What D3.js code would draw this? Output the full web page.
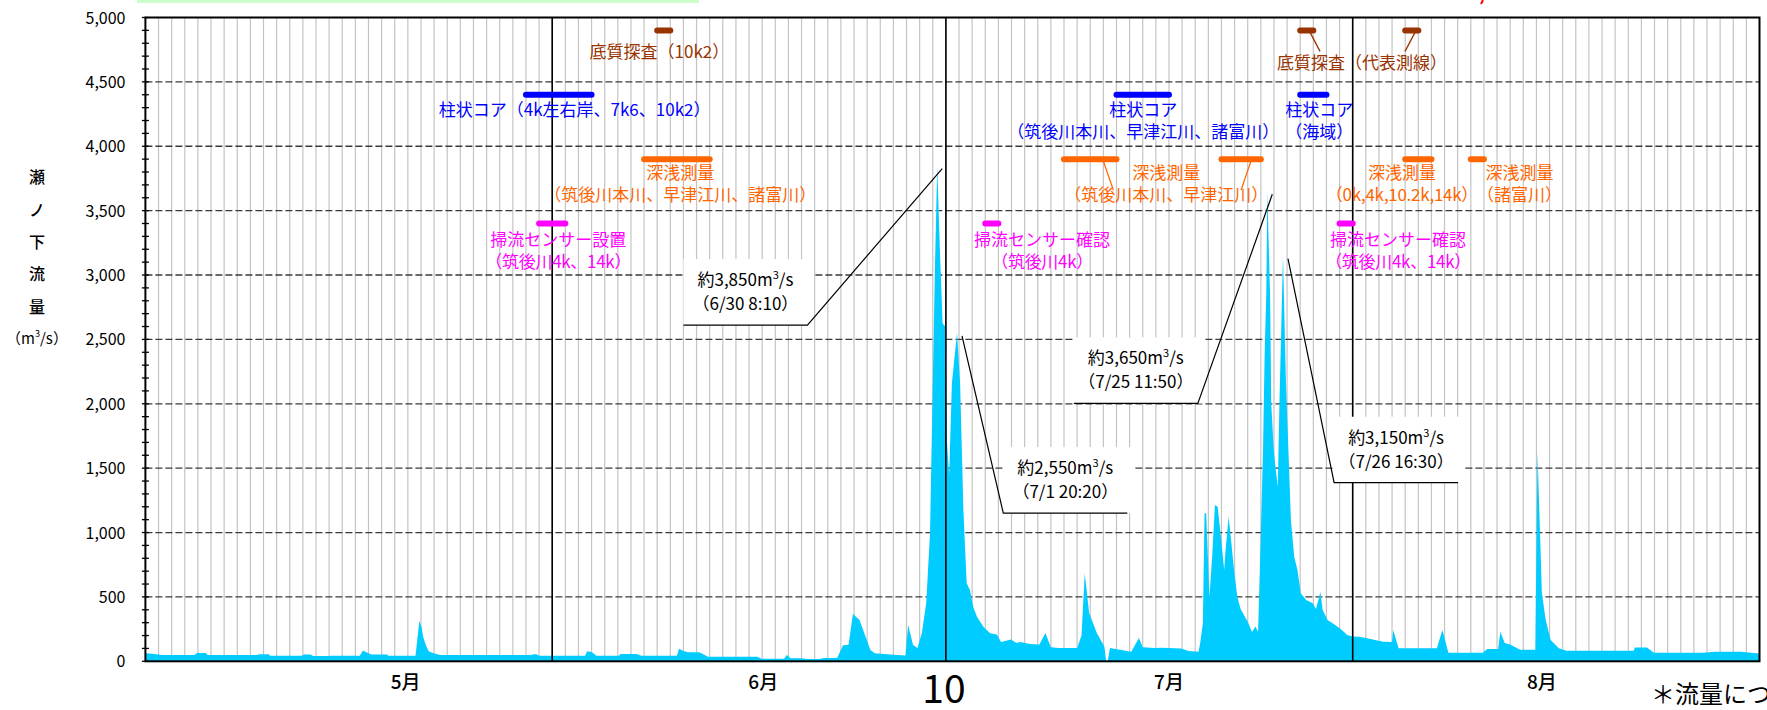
<!DOCTYPE html>
<html>
<head>
<meta charset="utf-8">
<script src="https://cdn.jsdelivr.net/npm/d3@7"></script>
<style>
	html, body { margin: 0; padding: 0; background: #fff; overflow: hidden; }
	svg { display: block; }
	text { font-family: "Noto Sans CJK JP", "Liberation Sans", sans-serif; }
</style>
</head>
<body>
<svg id="chart" width="1767" height="710"></svg>
<script>
// discharge at Senoshita, [time, m3/s]
var flowData = [
	["5/1 00:00", 62], ["5/1 12:00", 58], ["5/2 00:00", 52], ["5/2 06:00", 49], ["5/4 18:00", 49],
	["5/4 22:00", 64], ["5/5 14:00", 64], ["5/5 18:00", 49], ["5/9 12:00", 49], ["5/9 17:00", 54],
	["5/10 10:00", 54], ["5/10 12:00", 44], ["5/12 22:00", 44], ["5/13 02:00", 52], ["5/13 14:00", 52],
	["5/13 19:00", 41], ["5/14 23:00", 41], ["5/15 03:00", 44], ["5/17 08:00", 44], ["5/17 14:00", 83],
	["5/17 20:00", 70], ["5/18 05:00", 52], ["5/19 10:00", 52], ["5/19 12:00", 44], ["5/21 14:00", 44],
	["5/21 21:00", 313], ["5/22 01:00", 267], ["5/22 04:00", 190], ["5/22 09:00", 125], ["5/22 14:00", 78],
	["5/22 23:00", 62], ["5/23 11:00", 49], ["5/30 10:00", 49], ["5/30 14:00", 54], ["5/30 19:00", 54],
	["5/31 00:00", 44], ["6/3 12:00", 44], ["6/3 16:00", 78], ["6/4 00:00", 73], ["6/4 09:00", 44],
	["6/6 02:00", 44], ["6/6 05:00", 57], ["6/7 10:00", 57], ["6/7 19:00", 44], ["6/10 12:00", 44],
	["6/10 16:00", 98], ["6/11 00:00", 80], ["6/11 08:00", 70], ["6/12 05:00", 70], ["6/12 21:00", 36],
	["6/16 15:00", 36], ["6/16 23:00", 20], ["6/18 16:00", 20], ["6/18 21:00", 49], ["6/19 04:00", 23],
	["6/20 00:00", 23], ["6/20 09:00", 18], ["6/21 09:00", 18], ["6/21 17:00", 26], ["6/22 17:00", 26],
	["6/23 04:00", 125], ["6/23 14:00", 128], ["6/23 22:00", 367], ["6/24 04:00", 345], ["6/24 10:00", 320],
	["6/24 20:00", 204], ["6/25 06:00", 88], ["6/25 14:00", 62], ["6/26 12:00", 55], ["6/27 22:00", 45],
	["6/28 03:00", 282], ["6/28 12:00", 126], ["6/28 20:00", 103], ["6/29 04:00", 220], ["6/29 12:00", 450],
	["6/29 19:00", 996], ["6/30 00:00", 2160], ["6/30 04:00", 3064], ["6/30 08:10", 3850], ["6/30 13:00", 3193],
	["6/30 18:00", 2624], ["6/30 23:00", 2600], ["7/1 02:00", 1700], ["7/1 06:00", 1450], ["7/1 11:00", 2160],
	["7/1 20:20", 2550], ["7/2 02:00", 2160], ["7/2 08:00", 1175], ["7/2 14:00", 607], ["7/2 20:00", 554],
	["7/3 02:00", 422], ["7/3 09:00", 345], ["7/3 21:00", 267], ["7/4 09:00", 218], ["7/4 21:00", 208],
	["7/5 05:00", 150], ["7/5 23:00", 170], ["7/6 09:00", 142], ["7/6 16:00", 150], ["7/7 10:00", 135],
	["7/8 03:00", 130], ["7/8 14:00", 220], ["7/9 00:00", 110], ["7/9 14:00", 103], ["7/11 00:00", 103],
	["7/11 08:00", 200], ["7/11 14:00", 683], ["7/11 22:00", 375], ["7/12 12:00", 220], ["7/13 02:00", 113],
	["7/13 05:00", 0], ["7/13 08:00", 0], ["7/13 12:00", 103], ["7/15 03:00", 75], ["7/15 17:00", 180],
	["7/16 00:00", 110], ["7/16 21:00", 103], ["7/17 12:00", 105], ["7/18 22:00", 100], ["7/19 12:00", 80],
	["7/20 06:00", 75], ["7/20 09:00", 140], ["7/20 14:00", 295], ["7/20 17:00", 1149], ["7/20 20:00", 1150],
	["7/21 02:00", 501], ["7/21 07:00", 812], ["7/21 12:00", 1213], ["7/21 17:00", 1200], ["7/21 23:00", 967],
	["7/22 05:00", 709], ["7/22 07:00", 840], ["7/22 13:00", 1123], ["7/22 17:00", 967], ["7/22 23:00", 709],
	["7/23 05:00", 501], ["7/23 11:00", 406], ["7/24 00:00", 308], ["7/24 08:00", 227], ["7/24 14:00", 270],
	["7/24 19:00", 230], ["7/24 23:00", 840], ["7/25 04:00", 1640], ["7/25 07:00", 2393], ["7/25 10:00", 2857],
	["7/25 11:50", 3650], ["7/25 17:00", 2830], ["7/25 19:00", 2003], ["7/26 00:00", 1615], ["7/26 07:00", 1356],
	["7/26 10:00", 2003], ["7/26 16:30", 3150], ["7/26 22:00", 2160], ["7/27 02:00", 1693], ["7/27 07:00", 1097],
	["7/27 13:00", 812], ["7/27 19:00", 709], ["7/28 01:00", 528], ["7/28 11:00", 476], ["7/28 23:00", 450],
	["7/29 05:00", 406], ["7/29 13:00", 540], ["7/29 17:00", 400], ["7/30 02:00", 320], ["7/30 14:00", 287],
	["7/31 02:00", 250], ["7/31 14:00", 204], ["8/1 00:00", 192], ["8/1 12:00", 190], ["8/2 00:00", 180],
	["8/3 08:00", 152], ["8/4 00:00", 150], ["8/4 02:00", 243], ["8/4 12:00", 101], ["8/7 10:00", 101],
	["8/7 20:00", 243], ["8/8 07:00", 67], ["8/10 22:00", 67], ["8/11 06:00", 95], ["8/12 02:00", 95],
	["8/12 06:00", 230], ["8/12 14:00", 142], ["8/13 00:00", 130], ["8/13 18:00", 90], ["8/14 22:00", 90],
	["8/15 02:00", 1630], ["8/15 10:00", 528], ["8/15 17:00", 320], ["8/16 02:00", 165], ["8/16 17:00", 101],
	["8/17 07:00", 82], ["8/22 10:00", 82], ["8/22 12:00", 107], ["8/23 10:00", 107], ["8/23 23:00", 67],
	["8/27 17:00", 67], ["8/28 14:00", 75], ["8/30 14:00", 75], ["8/31 18:00", 62], ["9/1 00:00", 62]
];

var yTicks = [0, 500, 1000, 1500, 2000, 2500, 3000, 3500, 4000, 4500, 5000];
var monthBounds = ["6/1", "7/1", "8/1"];
var monthLabels = ["5月", "6月", "7月", "8月"];
var monthLabelDates = ["5/20 20:00", "6/17 02:00", "7/18 00:00", "8/15 10:00"];
var yTitleChars = ["瀬", "ノ", "下", "流", "量"];

// survey periods; level = flow value the bar is drawn at
var taskLevels = {sediment: 4900, core: 4400, depth: 3900, sensor: 3400};
var tasks = [
	{kind: "sediment", spans: [["6/9", "6/10"]], text: ["底質探査（10k2）"], labelAt: ["6/9 04:00", 4733]},
	{kind: "core", spans: [["5/30", "6/4"]], text: ["柱状コア（4k左右岸、7k6、10k2）"], labelAt: ["6/2 17:00", 4280]},
	{kind: "depth", spans: [["6/8", "6/13"]], text: ["深浅測量", "（筑後川本川、早津江川、諸富川）"], labelAt: ["6/10 18:00", 3789]},
	{kind: "sensor", spans: [["5/31", "6/2"]], text: ["掃流センサー設置", "（筑後川4k、14k）"], labelAt: ["6/1 11:00", 3271]},
	{kind: "sensor", spans: [["7/4", "7/5"]], text: ["掃流センサー確認", "（筑後川4k）"], labelAt: ["7/8 08:00", 3271]},
	{kind: "core", spans: [["7/14", "7/18"]], text: ["柱状コア", "（筑後川本川、早津江川、諸富川）"], labelAt: ["7/16 01:00", 4280]},
	{kind: "depth", spans: [["7/10", "7/14"], ["7/22", "7/25"]], text: ["深浅測量", "（筑後川本川、早津江川）"], labelAt: ["7/17 19:00", 3789]},
	{kind: "sediment", spans: [["7/28", "7/29"], ["8/5", "8/6"]], text: ["底質探査（代表測線）"], labelAt: ["8/1 17:00", 4643]},
	{kind: "core", spans: [["7/28", "7/30"]], text: ["柱状コア", "（海域）"], labelAt: ["7/29 11:00", 4280]},
	{kind: "sensor", spans: [["7/31", "8/1"]], text: ["掃流センサー確認", "（筑後川4k、14k）"], labelAt: ["8/4 11:00", 3271]},
	{kind: "depth", spans: [["8/5", "8/7"]], text: ["深浅測量", "（0k,4k,10.2k,14k）"], labelAt: ["8/4 18:00", 3789]},
	{kind: "depth", spans: [["8/10", "8/11"]], text: ["深浅測量", "（諸富川）"], labelAt: ["8/13 17:00", 3789]}
];

// peak call-outs; boxAt = [left edge time, bottom edge value]
var peakNotes = [
	{time: "6/30 08:10", value: 3850, amount: "約3,850", when: "（6/30 8:10）", boxAt: ["6/11 00:00", 2611]},
	{time: "7/1 20:20", value: 2550, amount: "約2,550", when: "（7/1 20:20）", boxAt: ["7/5 09:00", 1151]},
	{time: "7/25 11:50", value: 3650, amount: "約3,650", when: "（7/25 11:50）", boxAt: ["7/10 18:00", 2003]},
	{time: "7/26 16:30", value: 3150, amount: "約3,150", when: "（7/26 16:30）", boxAt: ["7/30 14:00", 1387]}
];

var kindColors = {sediment: "#993300", core: "#0000ff", depth: "#ff6600", sensor: "#ff00ff"};
var jpFont = "'Noto Sans CJK JP', sans-serif";
var numFont = "'Liberation Sans', Arial, sans-serif";

var parseTime = d3.timeParse("%m/%d %H:%M");
var toDate = function (s) {
	return parseTime(s.indexOf(" ") === -1 ? s + " 00:00" : s);
};

var svg = d3.select("#chart");
var plot = {left: 145.4, right: 1759.5, top: 17.5, bottom: 661.3};

var x = d3.scaleTime()
	.domain([toDate("5/1"), toDate("9/1")])
	.range([plot.left, plot.right]);
var y = d3.scaleLinear()
	.domain([0, 5000])
	.range([plot.bottom, plot.top]);

// bits of the page above the chart that got cropped
svg.append("rect")
	.attr("x", 137).attr("y", 0)
	.attr("width", 562).attr("height", 3)
	.attr("fill", "#ccffcc");
svg.append("line")
	.attr("x1", 1483).attr("y1", 0)
	.attr("x2", 1481).attr("y2", 4)
	.attr("stroke", "#ff0000").attr("stroke-width", 2);

// daily grid
var gGrid = svg.append("g");
gGrid.selectAll("line.day")
	.data(d3.timeDay.range(toDate("5/2"), toDate("9/1")))
	.enter().append("line")
	.attr("class", "day")
	.attr("x1", function (d) { return x(d); })
	.attr("x2", function (d) { return x(d); })
	.attr("y1", plot.top)
	.attr("y2", plot.bottom)
	.attr("stroke", "#c4c4c4")
	.attr("stroke-width", 1.2);

gGrid.selectAll("line.hgrid")
	.data(yTicks.slice(1, -1))
	.enter().append("line")
	.attr("class", "hgrid")
	.attr("x1", plot.left)
	.attr("x2", plot.right)
	.attr("y1", function (d) { return y(d); })
	.attr("y2", function (d) { return y(d); })
	.attr("stroke", "#3a3a3a")
	.attr("stroke-width", 1.3)
	.attr("stroke-dasharray", "7,3");

// hydrograph
var area = d3.area()
	.x(function (d) { return x(toDate(d[0])); })
	.y0(y(0))
	.y1(function (d) { return y(d[1]); });

svg.append("path")
	.datum(flowData)
	.attr("d", area)
	.attr("fill", "#00ccff");

// month boundaries
svg.selectAll("line.month")
	.data(monthBounds)
	.enter().append("line")
	.attr("class", "month")
	.attr("x1", function (d) { return x(toDate(d)); })
	.attr("x2", function (d) { return x(toDate(d)); })
	.attr("y1", plot.top)
	.attr("y2", plot.bottom)
	.attr("stroke", "#000")
	.attr("stroke-width", 1.6);

// plot frame
svg.append("rect")
	.attr("x", plot.left).attr("y", plot.top)
	.attr("width", plot.right - plot.left)
	.attr("height", plot.bottom - plot.top)
	.attr("fill", "none")
	.attr("stroke", "#000")
	.attr("stroke-width", 2);

// y axis ticks every 100 crossing the axis line
svg.selectAll("line.ytick")
	.data(d3.range(0, 5001, 100))
	.enter().append("line")
	.attr("class", "ytick")
	.attr("x1", plot.left - 3.5)
	.attr("x2", plot.left + 3.5)
	.attr("y1", function (d) { return y(d); })
	.attr("y2", function (d) { return y(d); })
	.attr("stroke", "#000")
	.attr("stroke-width", 1.3);

svg.selectAll("text.ylabel")
	.data(yTicks)
	.enter().append("text")
	.attr("class", "ylabel")
	.attr("x", 125.5)
	.attr("y", function (d) { return y(d) + 6; })
	.attr("text-anchor", "end")
	.attr("font-family", numFont)
	.attr("font-size", "16px")
	.attr("fill", "#000")
	.text(d3.format(","));

// y axis title, one character per row
var titleY = [177, 210, 242, 274, 307];
yTitleChars.forEach(function (c, i) {
	svg.append("text")
		.attr("x", 37).attr("y", titleY[i] + 6)
		.attr("text-anchor", "middle")
		.attr("font-family", jpFont)
		.attr("font-size", "16px")
		.attr("font-weight", "500")
		.text(c);
});
var unit = svg.append("text")
	.attr("x", 37).attr("y", 344)
	.attr("text-anchor", "middle")
	.attr("font-family", jpFont)
	.attr("font-size", "15px");
unit.append("tspan").text("（m");
unit.append("tspan").attr("font-size", "9px").attr("dy", -7).text("3");
unit.append("tspan").attr("dy", 7).text("/s）");

// month labels
svg.selectAll("text.month")
	.data(monthLabels)
	.enter().append("text")
	.attr("class", "month")
	.attr("x", function (d, i) { return x(toDate(monthLabelDates[i])); })
	.attr("y", 689)
	.attr("text-anchor", "middle")
	.attr("font-family", jpFont)
	.attr("font-size", "19px")
	.attr("font-weight", "500")
	.text(function (d) { return d; });

// survey bars and their labels
var gTasks = svg.append("g");
tasks.forEach(function (t) {
	var color = kindColors[t.kind];
	var by = y(taskLevels[t.kind]);
	var lx = x(toDate(t.labelAt[0]));
	var ly = y(t.labelAt[1]);

	t.spans.forEach(function (s) {
		var x0 = x(toDate(s[0]));
		var x1 = x(toDate(s[1]));
		gTasks.append("line")
			.attr("x1", x0).attr("x2", x1)
			.attr("y1", by).attr("y2", by)
			.attr("stroke", color)
			.attr("stroke-width", 6)
			.attr("stroke-linecap", "round");

		// split periods get a short leader to the shared label
		if (t.spans.length > 1) {
			var sx = x0 + (x1 - x0) * 0.75;
			var dir = lx > sx ? 1 : -1;
			gTasks.append("line")
				.attr("x1", sx).attr("y1", by + 2)
				.attr("x2", sx + dir * 10)
				.attr("y2", by + (t.kind === "depth" ? 31 : 21))
				.attr("stroke", color)
				.attr("stroke-width", 1.3);
		}
	});

	t.text.forEach(function (line, i) {
		gTasks.append("text")
			.attr("x", lx)
			.attr("y", ly + i * 21.5 + 6)
			.attr("text-anchor", "middle")
			.attr("font-family", jpFont)
			.attr("font-size", "17px")
			.attr("letter-spacing", i > 0 && /\d/.test(line) ? "-0.3px" : null)
			.attr("fill", color)
			.text(line);
	});
});

// peak call-outs
var gNotes = svg.append("g");
peakNotes.forEach(function (n) {
	var bx = x(toDate(n.boxAt[0]));
	var bb = y(n.boxAt[1]);
	var bw = 130, bh = 66, lineW = 124;
	var px = x(toDate(n.time)) + 5;
	var py = y(n.value) + 3;

	gNotes.append("rect")
		.attr("x", bx).attr("y", bb - bh)
		.attr("width", bw).attr("height", bh)
		.attr("fill", "#fff");

	var fromRight = px > bx + bw / 2;
	var ax = fromRight ? bx + lineW : bx;
	gNotes.append("polyline")
		.attr("points", [[bx, bb], [bx + lineW, bb], [ax, bb], [px, py]].join(" "))
		.attr("fill", "none")
		.attr("stroke", "#000")
		.attr("stroke-width", 1.2);

	var cx = bx + lineW / 2;
	var t1 = gNotes.append("text")
		.attr("x", cx).attr("y", bb - 45 + 6)
		.attr("text-anchor", "middle")
		.attr("font-family", jpFont)
		.attr("font-size", "17px");
	t1.append("tspan").text(n.amount + "m");
	t1.append("tspan").attr("font-size", "11px").attr("dy", -7).text("3");
	t1.append("tspan").attr("dy", 7).text("/s");

	gNotes.append("text")
		.attr("x", cx).attr("y", bb - 21 + 6)
		.attr("text-anchor", "middle")
		.attr("font-family", jpFont)
		.attr("font-size", "17px")
		.text(n.when);
});

// stray bits below the axis
svg.append("text")
	.attr("x", 944).attr("y", 703)
	.attr("text-anchor", "middle")
	.attr("font-family", numFont)
	.attr("font-size", "39px")
	.text("10");
svg.append("text")
	.attr("x", 1651).attr("y", 703)
	.attr("font-family", jpFont)
	.attr("font-size", "24px")
	.text("＊流量につ");
</script>
</body>
</html>
